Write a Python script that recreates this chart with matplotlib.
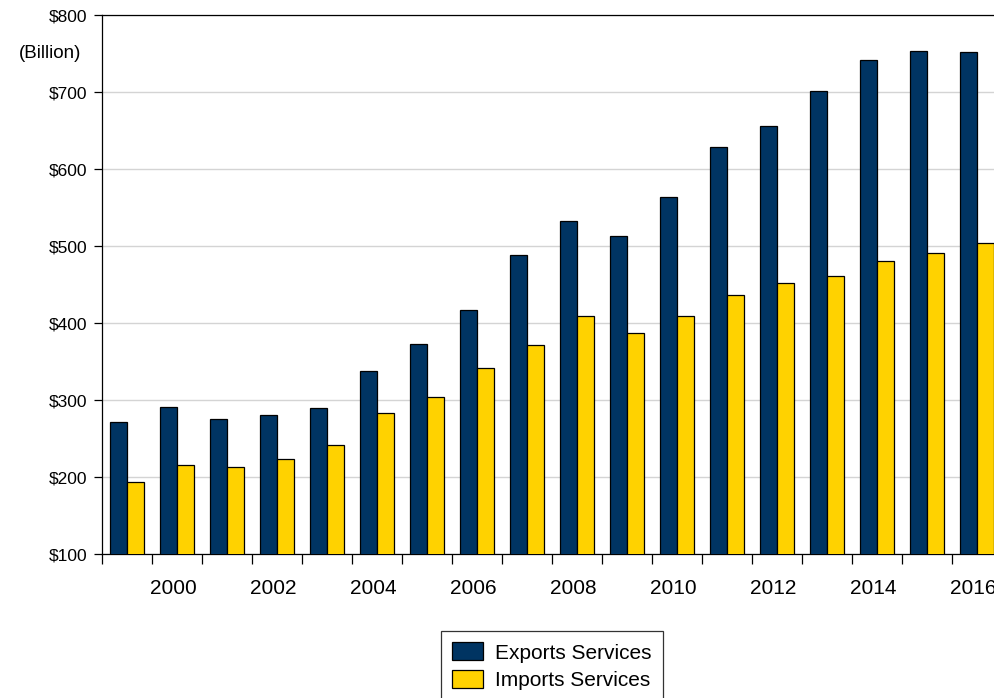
import matplotlib
matplotlib.use("Agg")
import matplotlib.pyplot as plt
import numpy as np

# Servicios: exportaciones e importaciones (miles de millones de dólares)
years = list(range(1999, 2017))
exports = [271, 291, 275, 281, 290, 338, 373, 417, 488, 533, 513, 564,
           628, 656, 701, 742, 753, 752]
imports = [193, 216, 213, 224, 242, 283, 304, 341, 372, 409, 387, 409,
           436, 452, 461, 481, 491, 504]
yticks = [100, 200, 300, 400, 500, 600, 700, 800]

color_exp = "#003462"
color_imp = "#FFD200"

plt.rcParams["font.family"] = ["Liberation Sans", "DejaVu Sans"]

fig = plt.figure(figsize=(9.95, 6.98), dpi=100)
ax = fig.add_axes([0.1025, 0.2063, 0.9045, 0.7722])

x = np.arange(len(years))
w = 0.34
ax.bar(x - w / 2, exports, width=w, color=color_exp, edgecolor="black",
       linewidth=0.9, label="Exports Services", zorder=3)
ax.bar(x + w / 2, imports, width=w, color=color_imp, edgecolor="black",
       linewidth=0.9, label="Imports Services", zorder=3)

ax.set_xlim(-0.5, len(years) - 0.5)
ax.set_ylim(100, 800)

# eje Y
ax.set_yticks(yticks)
ax.set_yticklabels(["$%d" % v for v in yticks], fontsize=12.5)
ax.tick_params(axis="y", direction="out", length=6, width=0.9, pad=4.5)
ax.grid(axis="y", color="#d4d4d4", linewidth=1, zorder=0)

# eje X: marcas entre categorías, etiquetas en años pares
ax.set_xticks(x[1::2] - 0.07)
ax.set_xticklabels([str(y) for y in years[1::2]], fontsize=15)
ax.tick_params(axis="x", which="major", length=0, pad=18)
ax.set_xticks(np.arange(-0.5, len(years), 1), minor=True)
ax.tick_params(axis="x", which="minor", direction="out", length=7, width=0.9)

for side in ["left", "bottom", "top"]:
    ax.spines[side].set_color("black")
    ax.spines[side].set_linewidth(0.9)
ax.spines["right"].set_visible(False)

fig.text(50 / 995, 1 - 53 / 698, "(Billion)", ha="center", va="center",
         fontsize=13.5)

leg = fig.legend(loc="upper center", bbox_to_anchor=(552 / 995, 1 - 631 / 698),
                 fontsize=15, frameon=True, fancybox=False, shadow=False,
                 handlelength=1.45, handleheight=0.95, handletextpad=0.6,
                 labelspacing=0.35, borderpad=0.55, borderaxespad=0)
leg.get_frame().set_edgecolor("black")
leg.get_frame().set_linewidth(0.9)

fig.savefig("out.png", dpi=100)
